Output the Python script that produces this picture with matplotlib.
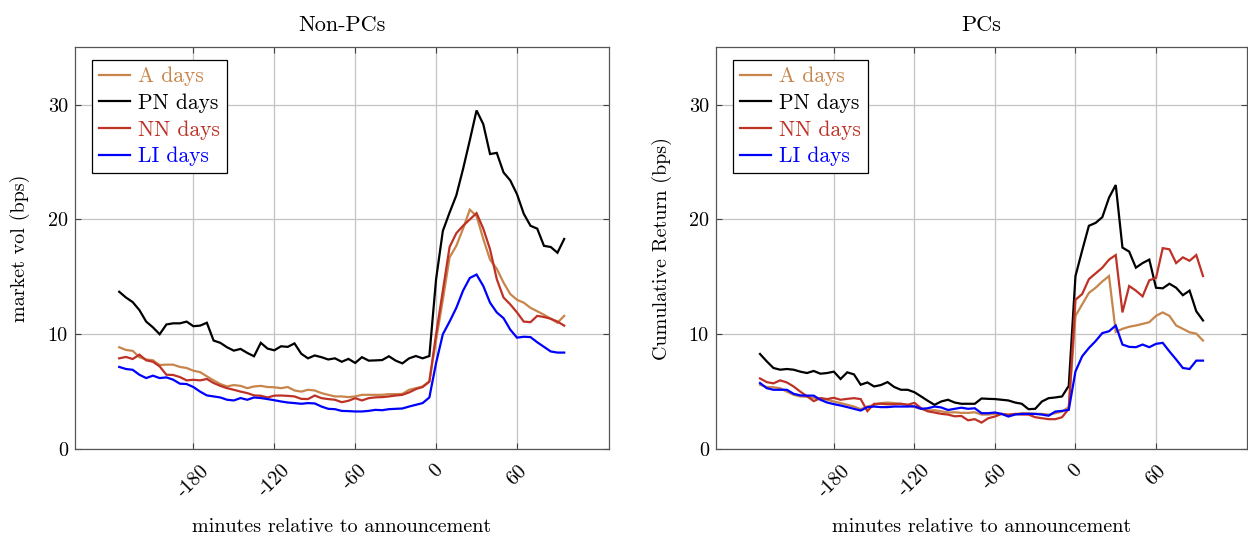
import numpy as np
import matplotlib
matplotlib.use("Agg")
import matplotlib.pyplot as plt

# ---------------- data ----------------
minutes = list(range(-235, 100, 5))

left_A = [8.87, 8.63, 8.55, 8.0, 7.8, 7.73, 7.32, 7.35, 7.35, 7.15, 7.06, 6.82, 6.7, 6.33, 5.98, 5.66,
          5.45, 5.57, 5.5, 5.3, 5.45, 5.5, 5.4, 5.38, 5.3, 5.4, 5.1, 5.0, 5.16, 5.1, 4.87, 4.72,
          4.58, 4.58, 4.52, 4.58, 4.72, 4.72, 4.72, 4.72, 4.78, 4.78, 4.8, 5.16, 5.3, 5.45, 5.9,
          9.5, 13.0, 16.7, 17.7, 19.2, 20.85, 20.3, 18.3, 16.5, 15.7, 14.5, 13.5, 13.0, 12.75, 12.3,
          12.0, 11.7, 11.35, 11.0, 11.6]
left_PN = [13.7, 13.2, 12.8, 12.1, 11.1, 10.6, 10.0, 10.85, 10.95, 10.95, 11.1, 10.7, 10.75, 11.0, 9.45,
           9.25, 8.86, 8.57, 8.72, 8.37, 8.08, 9.25, 8.75, 8.6, 8.95, 8.9, 9.2, 8.3, 7.9, 8.15, 8.0,
           7.8, 7.9, 7.6, 7.85, 7.5, 8.0, 7.7, 7.72, 7.75, 8.08, 7.7, 7.46, 7.9, 8.1, 7.9, 8.1,
           14.8, 19.0, 20.6, 22.1, 24.4, 26.9, 29.5, 28.3, 25.7, 25.8, 24.1, 23.4, 22.2, 20.5, 19.45,
           19.2, 17.7, 17.6, 17.1, 18.3]
left_NN = [7.9, 8.02, 7.84, 8.22, 7.73, 7.6, 7.2, 6.47, 6.45, 6.27, 5.98, 6.03, 5.98, 6.1, 5.75, 5.5,
           5.3, 5.16, 5.0, 4.87, 4.67, 4.64, 4.49, 4.65, 4.66, 4.63, 4.58, 4.37, 4.35, 4.66, 4.43,
           4.35, 4.29, 4.08, 4.2, 4.43, 4.23, 4.43, 4.5, 4.52, 4.58, 4.66, 4.72, 4.93, 5.22, 5.4, 5.86,
           10.0, 13.8, 17.6, 18.8, 19.45, 20.0, 20.55, 19.2, 17.4, 14.8, 13.2, 12.6, 11.9, 11.1, 11.05,
           11.6, 11.5, 11.35, 11.1, 10.75]
left_LI = [7.15, 6.97, 6.9, 6.47, 6.18, 6.39, 6.18, 6.24, 6.04, 5.69, 5.66, 5.4, 5.0, 4.67, 4.58, 4.49,
           4.29, 4.23, 4.44, 4.29, 4.49, 4.44, 4.35, 4.25, 4.14, 4.05, 4.0, 3.94, 4.0, 3.97, 3.7,
           3.5, 3.47, 3.32, 3.3, 3.27, 3.27, 3.32, 3.41, 3.38, 3.47, 3.5, 3.53, 3.7, 3.85, 4.0, 4.49,
           7.5, 10.0, 11.1, 12.3, 13.8, 14.9, 15.2, 14.2, 12.75, 11.9, 11.4, 10.4, 9.7, 9.78, 9.75,
           9.3, 8.9, 8.5, 8.4, 8.4]

right_A = [5.6, 5.4, 5.38, 5.3, 5.0, 4.72, 4.58, 4.55, 4.43, 4.43, 4.29, 4.14, 4.0, 3.85, 3.7, 3.47,
           3.7, 3.85, 4.0, 4.05, 4.0, 3.94, 3.85, 3.65, 3.5, 3.35, 3.38, 3.28, 3.18, 3.2, 3.15, 3.15,
           3.2, 3.0, 3.0, 3.06, 3.04, 3.0, 3.04, 3.12, 3.12, 3.06, 3.06, 3.0, 3.12, 3.26, 3.65,
           11.6, 12.6, 13.6, 14.05, 14.6, 15.07, 10.2, 10.47, 10.65, 10.76, 10.9, 11.05, 11.6, 11.9, 11.6,
           10.76, 10.47, 10.17, 10.05, 9.45]
right_PN = [8.28, 7.64, 7.06, 6.91, 6.97, 6.91, 6.74, 6.62, 6.8, 6.56, 6.62, 6.74, 6.1, 6.68, 6.5, 5.6,
            5.8, 5.45, 5.57, 5.83, 5.4, 5.16, 5.16, 4.95, 4.58, 4.2, 3.85, 4.14, 4.29, 4.05, 3.94,
            3.94, 3.94, 4.4, 4.37, 4.35, 4.29, 4.23, 4.05, 3.94, 3.47, 3.5, 4.14, 4.43, 4.49, 4.58, 5.5,
            15.07, 17.3, 19.45, 19.7, 20.2, 21.9, 23.0, 17.55, 17.2, 15.8, 16.2, 16.5, 14.05, 14.0, 14.4,
            14.05, 13.4, 13.8, 12.0, 11.2]
right_NN = [6.15, 5.83, 5.72, 5.98, 5.8, 5.45, 5.0, 4.6, 4.17, 4.43, 4.35, 4.46, 4.29, 4.37, 4.43, 4.35,
            3.3, 3.94, 3.94, 3.9, 3.9, 3.94, 3.85, 4.02, 3.56, 3.28, 3.18, 3.06, 3.0, 2.85, 2.88,
            2.5, 2.6, 2.3, 2.68, 2.83, 3.06, 2.97, 3.06, 3.0, 3.0, 2.77, 2.68, 2.6, 2.6, 2.77, 3.5,
            13.0, 13.5, 14.8, 15.3, 15.8, 16.5, 16.9, 11.9, 14.2, 13.8, 13.3, 14.7, 14.9, 17.5, 17.4,
            16.2, 16.7, 16.4, 16.9, 15.07]
right_LI = [5.75, 5.3, 5.16, 5.16, 5.16, 4.81, 4.67, 4.65, 4.65, 4.29, 4.05, 3.91, 3.79, 3.65, 3.5, 3.35,
            3.65, 3.7, 3.65, 3.65, 3.7, 3.7, 3.7, 3.72, 3.5, 3.55, 3.7, 3.62, 3.4, 3.5, 3.6,
            3.5, 3.55, 3.12, 3.12, 3.18, 3.06, 2.83, 3.0, 3.06, 3.06, 3.06, 3.0, 2.9, 3.26, 3.32, 3.41,
            6.76, 8.08, 8.8, 9.4, 10.1, 10.26, 10.76, 9.1, 8.9, 8.87, 9.1, 8.87, 9.16, 9.25, 8.5,
            7.8, 7.06, 6.97, 7.7, 7.7]

series_names = ["A days", "PN days", "NN days", "LI days"]
xticks = [-180, -120, -60, 0, 60]
xtick_labels = ["-180", "-120", "-60", "0", "60"]
yticks = [0, 10, 20, 30]
titles = ["Non-PCs", "PCs"]
ylabels = ["market vol (bps)", "Cumulative Return (bps)"]
xlabel = "minutes relative to announcement"

# ---------------- style ----------------
plt.rcParams["font.family"] = ["cmr10", "DejaVu Serif"]
plt.rcParams["axes.unicode_minus"] = False
plt.rcParams["mathtext.fontset"] = "cm"

colors = ["#C8854B", "#000000", "#BE3226", "#0000FF"]
FS = 14.5
LFS = 15.5
TFS = 16

W, H = 1248, 537
fig = plt.figure(figsize=(W / 100, H / 100), dpi=100)

def ax_rect(x0, x1, y0, y1):
    return [x0 / W, 1 - y1 / H, (x1 - x0) / W, (y1 - y0) / H]

ax_px = [(74.7, 608.7), (715.7, 1247.3)]
axes = [fig.add_axes(ax_rect(x0, x1, 47.3, 449)) for x0, x1 in ax_px]

data = [[left_A, left_PN, left_NN, left_LI], [right_A, right_PN, right_NN, right_LI]]
ylabel_pads = [13, 12]

for ax, ser, title, ylab, (x0, x1), lp in zip(axes, data, titles, ylabels, ax_px, ylabel_pads):
    for vals, name, c in zip(ser, series_names, colors):
        ax.plot(minutes, vals, color=c, lw=1.6, label=name, solid_joinstyle="miter")
    ax.set_xlim(-268, 128)
    ax.set_ylim(0, 35)
    ax.set_xticks(xticks)
    ax.set_xticklabels(xtick_labels, rotation=45, ha="center", va="top")
    ax.set_yticks(yticks)
    ax.grid(True, color="#c4c4c4", lw=0.9)
    ax.set_axisbelow(True)
    ax.tick_params(direction="in", top=True, right=True, length=4, width=0.8,
                   color="#404040", labelsize=FS, pad=5)
    ax.tick_params(axis="x", pad=9)
    for sp in ax.spines.values():
        sp.set_color("#555555")
        sp.set_linewidth(0.9)
    ax.set_title(title, fontsize=TFS, pad=12)
    ax.set_ylabel(ylab, fontsize=FS, labelpad=lp)
    ax.set_xlabel(xlabel, fontsize=FS, labelpad=13)
    bx = 17.5 / (x1 - x0)
    by = (449 - 60) / (449 - 47.3)
    leg = ax.legend(loc="upper left", bbox_to_anchor=(bx, by), borderaxespad=0,
                    fontsize=LFS, frameon=True, fancybox=False,
                    framealpha=1, edgecolor="black", labelcolor="linecolor",
                    handlelength=1.45, handletextpad=0.38, borderpad=0.32,
                    labelspacing=0.33)
    leg.get_frame().set_linewidth(0.9)

fig.savefig("out.png", dpi=100)
